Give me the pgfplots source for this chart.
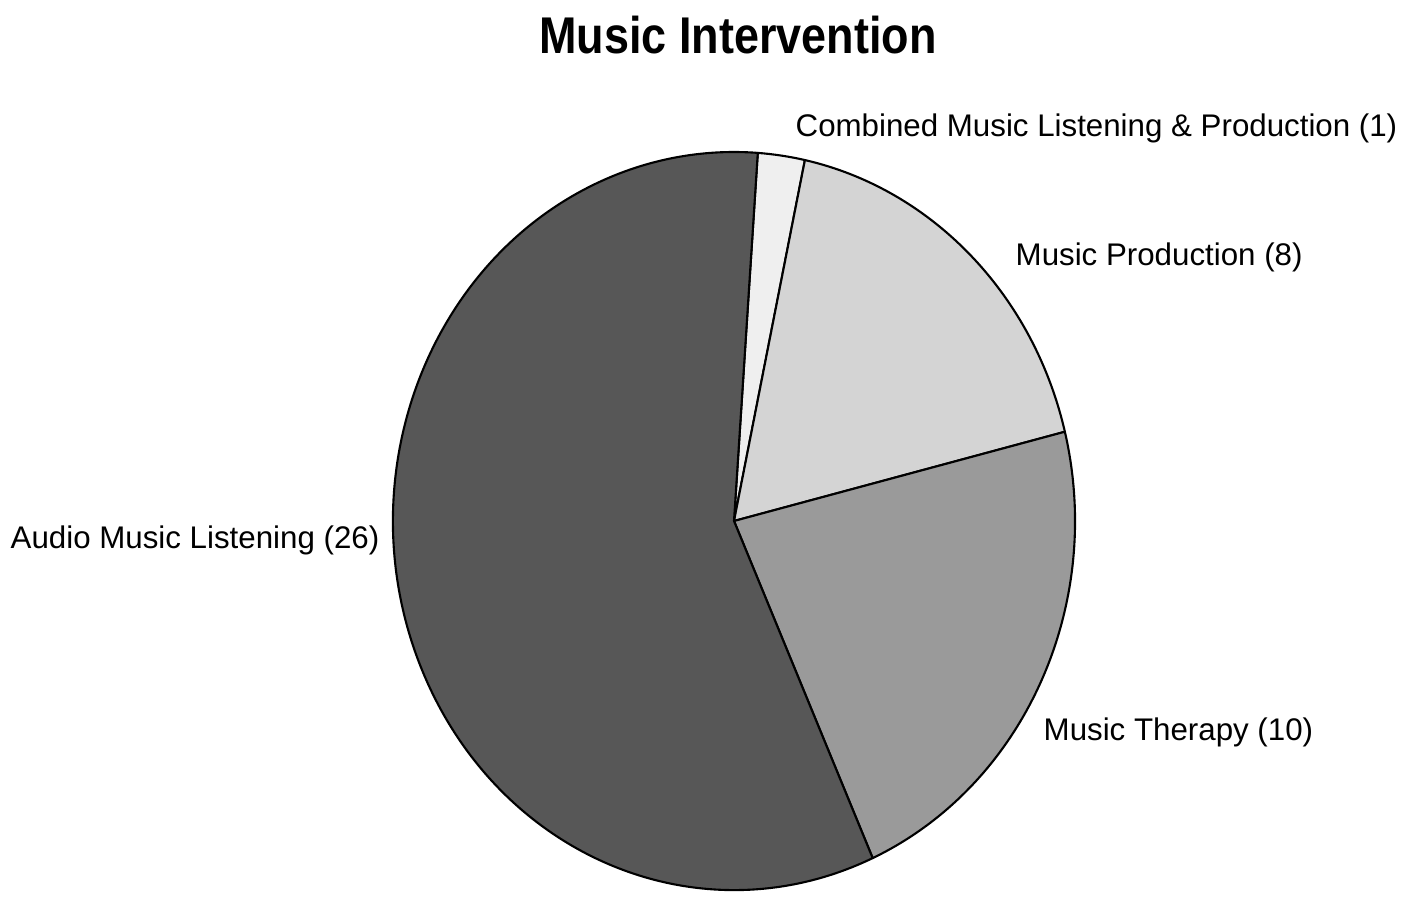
\documentclass[border=0pt]{standalone}
\usepackage{fontspec}
\setmainfont{Liberation Sans}
\newfontfamily\titlefont{Liberation Sans}[FakeStretch=0.87]
\usepackage{pgfplots}
\pgfplotsset{compat=1.18}

\definecolor{cComb}{HTML}{EFEFEF}
\definecolor{cProd}{HTML}{D4D4D4}
\definecolor{cTher}{HTML}{9A9A9A}
\definecolor{cAudio}{HTML}{575757}

% counts per intervention type
\def\nComb{1}
\def\nProd{8}
\def\nTher{10}
\def\nAudio{26}

\begin{document}
\begin{tikzpicture}
\pgfmathsetmacro{\tot}{\nComb+\nProd+\nTher+\nAudio}
\pgfmathsetmacro{\aA}{86}
\pgfmathsetmacro{\aB}{\aA-360*\nComb/\tot}
\pgfmathsetmacro{\aC}{\aB-360*\nProd/\tot}
\pgfmathsetmacro{\aD}{\aC-360*\nTher/\tot}
\pgfmathsetmacro{\aE}{\aD-360*\nAudio/\tot}
\begin{axis}[
    at={(0,0)}, anchor=center,
    scale only axis,
    width=6.82cm, height=7.38cm,
    xmin=-1, xmax=1, ymin=-1, ymax=1,
    hide axis,
    clip=false,
]
\filldraw[fill=cComb, draw=black, line width=0.6pt, line join=round]
    (axis cs:0,0) -- (axis cs:{cos(\aA)},{sin(\aA)})
    arc[start angle=\aA, end angle=\aB, x radius=3.41cm, y radius=3.69cm] -- cycle;
\filldraw[fill=cProd, draw=black, line width=0.6pt, line join=round]
    (axis cs:0,0) -- (axis cs:{cos(\aB)},{sin(\aB)})
    arc[start angle=\aB, end angle=\aC, x radius=3.41cm, y radius=3.69cm] -- cycle;
\filldraw[fill=cTher, draw=black, line width=0.6pt, line join=round]
    (axis cs:0,0) -- (axis cs:{cos(\aC)},{sin(\aC)})
    arc[start angle=\aC, end angle=\aD, x radius=3.41cm, y radius=3.69cm] -- cycle;
\filldraw[fill=cAudio, draw=black, line width=0.6pt, line join=round]
    (axis cs:0,0) -- (axis cs:{cos(\aD)},{sin(\aD)})
    arc[start angle=\aD, end angle=\aE, x radius=3.41cm, y radius=3.69cm] -- cycle;
\end{axis}

\node[font=\fontsize{14.7}{16}\selectfont\titlefont\bfseries] at (0.04,4.86) {Music Intervention};
\node[anchor=west, font=\fontsize{8.9}{10}\selectfont, inner sep=0pt] at (0.61,3.93) {Combined Music Listening \& Production (1)};
\node[anchor=west, font=\fontsize{8.9}{10}\selectfont, inner sep=0pt] at (2.81,2.64) {Music Production (8)};
\node[anchor=west, font=\fontsize{8.9}{10}\selectfont, inner sep=0pt] at (3.09,-2.11) {Music Therapy (10)};
\node[anchor=east, font=\fontsize{8.9}{10}\selectfont, inner sep=0pt] at (-3.54,-0.19) {Audio Music Listening (26)};

\pgfresetboundingbox
\path[use as bounding box] (-7.34,-3.88) rectangle (6.78,5.21);
\end{tikzpicture}
\end{document}
